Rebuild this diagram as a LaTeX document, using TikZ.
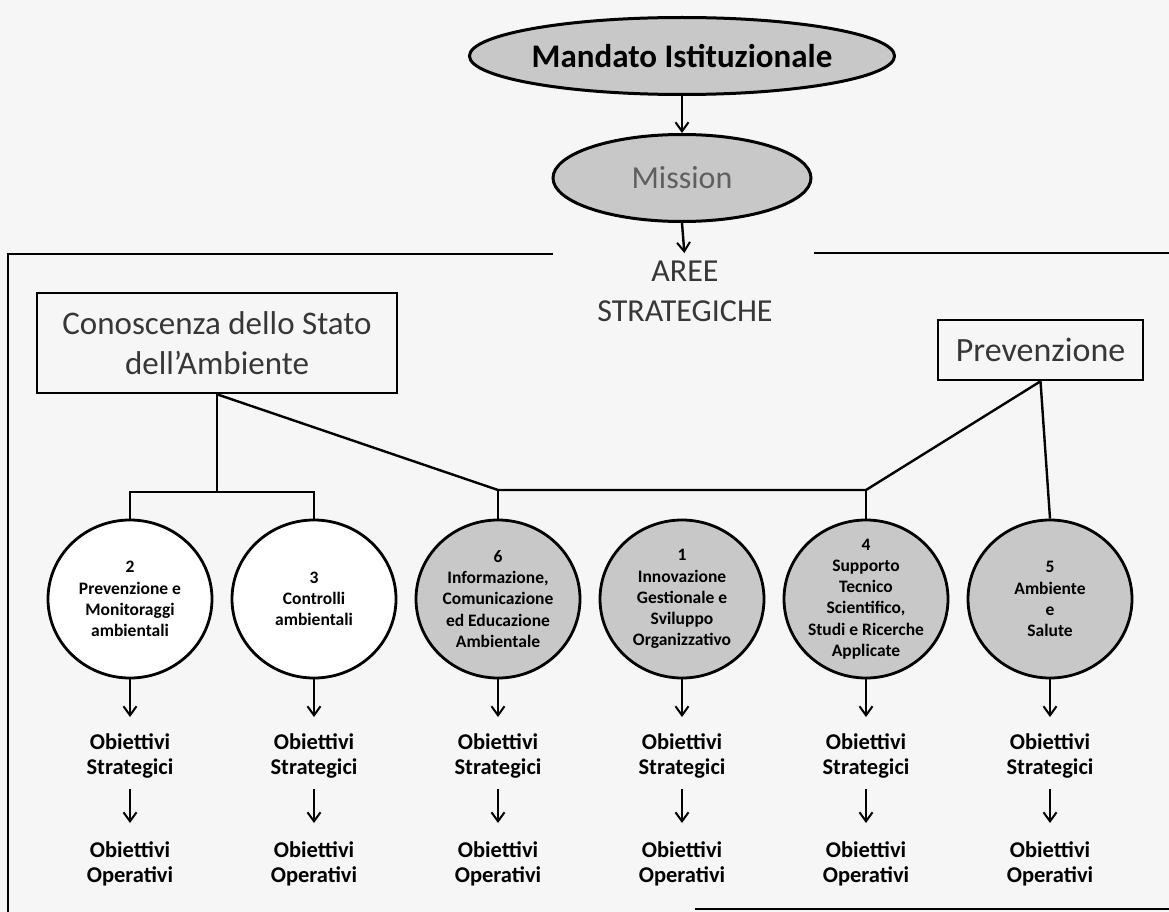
\documentclass[tikz,border=0pt]{standalone}
\usepackage{fontspec}
\setmainfont{Carlito}
\usetikzlibrary{shapes.geometric,arrows.meta,calc}
\definecolor{fillgray}{RGB}{200,200,200}
\definecolor{bgcol}{RGB}{246,246,246}
\definecolor{txtgray}{RGB}{55,55,55}
\definecolor{misgray}{RGB}{95,95,95}
\begin{document}
\begin{tikzpicture}[x=1pt,y=-1pt,
  oval/.style={ellipse, draw, line width=3pt, fill=fillgray, inner sep=0pt},
  area/.style={ellipse, draw, line width=2.8pt, minimum width=164pt, minimum height=158pt,
    inner sep=-20pt, align=center, font=\fontsize{17.5}{21.2}\selectfont\bfseries},
  whitearea/.style={area, fill=white},
  grayarea/.style={area, fill=fillgray},
  boxnode/.style={draw, line width=2.6pt, inner sep=0pt, align=center, text=txtgray},
  link/.style={line width=2.4pt},
  arr/.style={line width=2pt, -{Straight Barb[length=9pt,width=13pt,line width=2pt]}},
  obj/.style={align=center, inner sep=0pt, anchor=north, font=\fontsize{22.5}{25}\selectfont\bfseries},
  frameline/.style={line width=2.4pt}
]
\fill[bgcol] (0,0) rectangle (1169,912);
\useasboundingbox (0,0) rectangle (1169,912);

% frame
\draw[frameline] (8,912) -- (8,254) -- (553,254);
\draw[frameline] (814,253) -- (1169,253);
\draw[frameline] (695,909) -- (1169,909);

% top
\node[oval, minimum width=420pt, minimum height=77pt, font=\fontsize{33}{38}\selectfont\bfseries] (mandato) at (682,56) {Mandato Istituzionale};
\node[oval, minimum width=258pt, minimum height=87pt, text=misgray, font=\fontsize{32}{38}\selectfont] (mission) at (682,178) {Mission};
\node[anchor=north, inner sep=0pt, align=center, text=txtgray, font=\fontsize{32}{40}\selectfont] (aree) at (685,261) {AREE\\STRATEGICHE};
\draw[arr, line width=2.4pt] (mandato.south) -- (mission.north);
\draw[arr, line width=2.4pt, shorten >=8pt] (mission.south) -- (aree.north);

% strategic areas boxes
\node[boxnode, minimum width=360pt, minimum height=100pt, font=\fontsize{33}{40}\selectfont] (cono) at (217,343) {Conoscenza dello Stato\\dell’Ambiente};
\node[boxnode, minimum width=205pt, minimum height=60pt, font=\fontsize{34}{40}\selectfont] (prev) at (1040.5,350) {Prevenzione};

% circles
\node[whitearea] (c2) at (130,599) {2\\Prevenzione e\\Monitoraggi\\ambientali};
\node[whitearea] (c3) at (314,599) {3\\Controlli\\ambientali};
\node[grayarea] (c6) at (498,599) {6\\Informazione,\\Comunicazione\\ed Educazione\\Ambientale};
\node[grayarea] (c1) at (682,599) {1\\Innovazione\\Gestionale e\\Sviluppo\\Organizzativo};
\node[grayarea] (c4) at (866,599) {4\\Supporto\\Tecnico\\Scientifico,\\Studi e Ricerche\\Applicate};
\node[grayarea] (c5) at (1050,599) {5\\Ambiente\\e\\Salute};

% connectors
\coordinate (b1) at (217,492);
\coordinate (j6) at (498,490);
\coordinate (j4) at (866,490);
\draw[link] (cono.south) -- (b1);
\draw[link] (c2.north) |- (b1) -| (c3.north);
\draw[link] (cono.south) -- (j6) -- (j4);
\draw[link] (j6) -- (c6.north);
\draw[link] (j4) -- (c4.north);
\draw[link] (prev.south) -- (j4);
\draw[link] (prev.south) -- (c5.north);

% objectives
\foreach \n/\x in {c2/130,c3/314,c6/498,c1/682,c4/866,c5/1050}{
  \node[obj] (os\n) at (\x,733) {Obiettivi\\Strategici};
  \node[obj] (oo\n) at (\x,841) {Obiettivi\\Operativi};
  \draw[arr, shorten >=16pt] (\n.south) -- (os\n.north);
  \draw[arr, shorten <=11pt, shorten >=18pt] (os\n.south) -- (oo\n.north);
}
\end{tikzpicture}
\end{document}
